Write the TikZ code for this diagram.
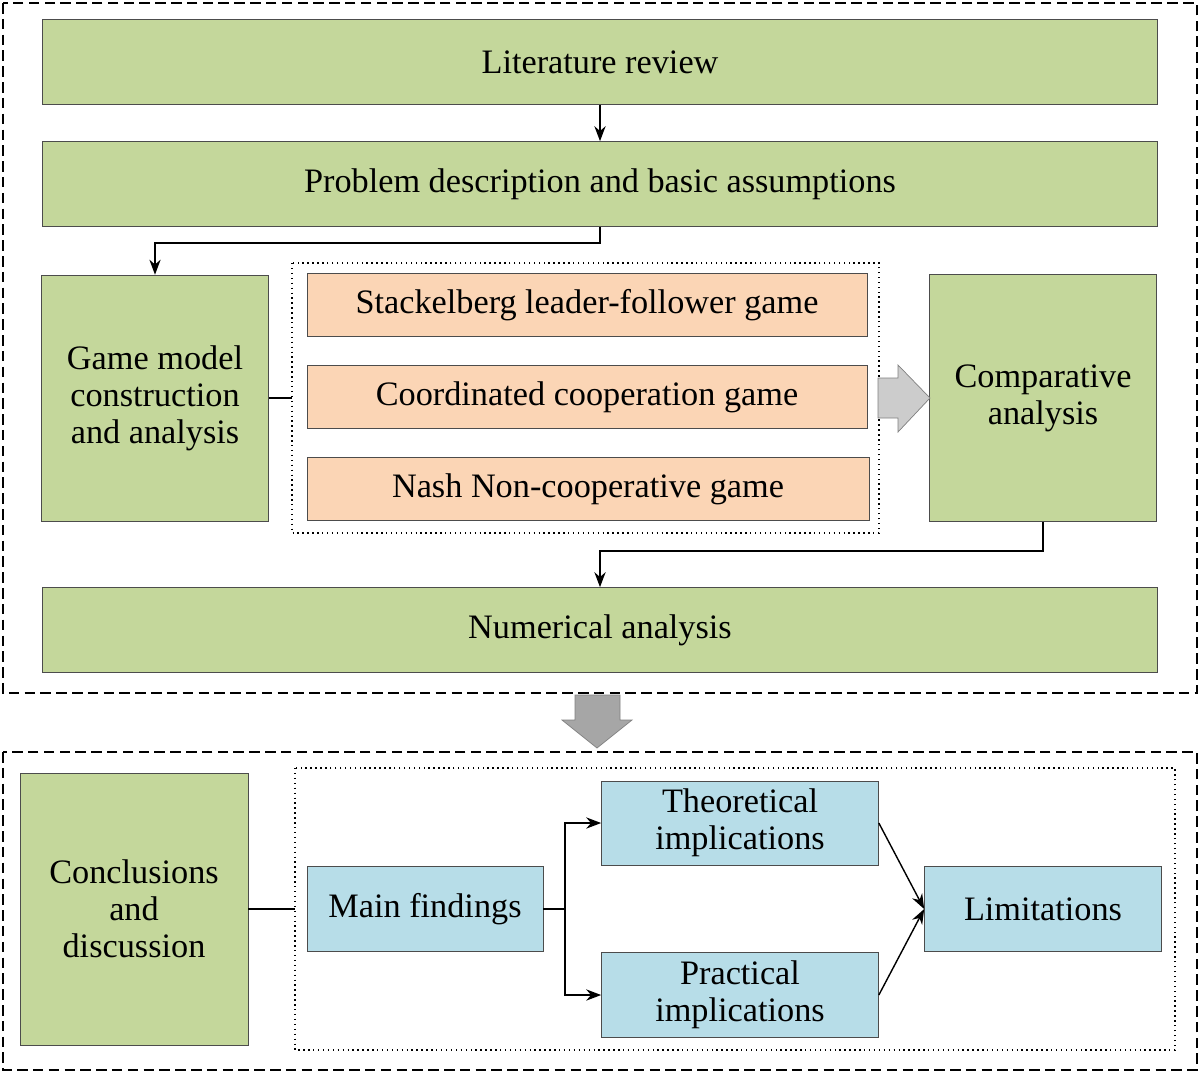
\documentclass[tikz,border=0pt]{standalone}
\usepackage{fontspec}
\setmainfont{Liberation Serif}
\usetikzlibrary{arrows.meta}
\definecolor{boxgreen}{RGB}{196,215,155}
\definecolor{boxorange}{RGB}{251,213,181}
\definecolor{boxblue}{RGB}{183,221,232}
\tikzset{
  box/.style={draw=black!70, align=center, inner sep=0pt, font=\fontsize{19.5}{21}\selectfont},
  green/.style={box, fill=boxgreen},
  orange/.style={box, fill=boxorange},
  blue/.style={box, fill=boxblue},
  conn/.style={draw, thick},
  arr/.style={conn, -{Stealth[length=3mm]}},
  frame/.style={thick, dash pattern=on 6pt off 3pt},
  bigarr/.style={fill=black!35, draw=black!50}
}
\begin{document}
\begin{tikzpicture}[x=0.02cm, y=-0.02cm]
        \useasboundingbox (0,0) rectangle (1200,1073);
        % outer frames
        \draw[frame] (3,3) rectangle (1197,693);
        \draw[frame] (3,752) rectangle (1197,1070);
        \draw[dotted, thick] (292,263) rectangle (879,533);
        \draw[dotted, thick] (295,768) rectangle (1175,1050);

        % upper part
        \node[green, minimum width=22.3cm, minimum height=1.7cm] (lit) at (600,62) {Literature review};
        \node[green, minimum width=22.3cm, minimum height=1.7cm] (prob) at (600,184) {Problem description and basic assumptions};
        \node[green, minimum width=4.54cm, minimum height=4.92cm] (game) at (155,398) {Game model\\construction\\and analysis};
        \node[orange, minimum width=11.2cm, minimum height=1.26cm] (stack) at (587,305) {Stackelberg leader-follower game};
        \node[orange, minimum width=11.2cm, minimum height=1.26cm] (coop) at (587,397) {Coordinated cooperation game};
        \node[orange, minimum width=11.24cm, minimum height=1.26cm] (nash) at (588,489) {Nash Non-cooperative game};
        \node[green, minimum width=4.54cm, minimum height=4.94cm] (comp) at (1043,398) {Comparative\\analysis};
        \node[green, minimum width=22.3cm, minimum height=1.7cm] (num) at (600,630) {Numerical analysis};

        \coordinate (gamedot) at (292,398);
        \draw[arr] (lit) -- (prob);
        \draw[arr] (prob.south) -- ++(0,16) -| (game.north);
        \draw[arr] (comp.south) -- ++(0,29) -| (num.north);
        \draw[conn] (game.east) -- (gamedot);
        \draw[fill=black!20, draw=black!50] (878,378) -- (898,378) -- (898,365) -- (930,398) -- (898,432) -- (898,418) -- (878,418) -- cycle;
        \draw[bigarr] (575,695) -- (620,695) -- (620,720) -- (632,720) -- (597,748) -- (562,720) -- (575,720) -- cycle;

        % lower part
        \node[green, minimum width=4.56cm, minimum height=5.44cm] (concl) at (134,909) {Conclusions\\and\\discussion};
        \node[blue, minimum width=4.72cm, minimum height=1.7cm] (main) at (425,909) {Main findings};
        \node[blue, minimum width=5.54cm, minimum height=1.68cm] (theo) at (740,823) {Theoretical\\implications};
        \node[blue, minimum width=5.54cm, minimum height=1.7cm] (prac) at (740,995) {Practical\\implications};
        \node[blue, minimum width=4.74cm, minimum height=1.7cm] (lim) at (1043,909) {Limitations};

        \coordinate (concldot) at (295,909);
        \coordinate (split) at (565,909);
        \draw[conn] (concl.east) -- (concldot);
        \draw[conn] (main.east) -- (split);
        \draw[arr] (split) |- (theo.west);
        \draw[arr] (split) |- (prac.west);
        \draw[arr] (theo.east) -- (lim.west);
        \draw[arr] (prac.east) -- (lim.west);
\end{tikzpicture}
\end{document}
